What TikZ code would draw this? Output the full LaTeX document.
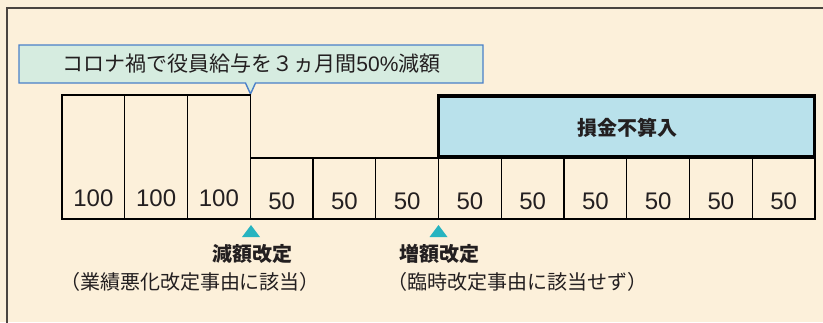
\documentclass[tikz,border=0pt]{standalone}
\usepackage{fontspec}
\setmainfont{Noto Sans CJK JP}
\newfontfamily\numfont{Liberation Sans}
\definecolor{bgc}{HTML}{FCF0DA}
\definecolor{framec}{HTML}{4A4540}
\definecolor{callfill}{HTML}{D6ECE0}
\definecolor{calldraw}{HTML}{4A80C8}
\definecolor{lossfill}{HTML}{B9E1EB}
\definecolor{mark}{HTML}{27B4C0}
\definecolor{txt}{HTML}{231F20}
\begin{document}
\begin{tikzpicture}[x=1pt,y=-1pt,
  gridline/.style={draw=black,line width=1.3pt},
  numtxt/.style={text=txt,font=\numfont\fontsize{24}{24}\selectfont,inner sep=0pt,anchor=center},
  jptxt/.style={text=txt,font=\fontsize{20}{20}\selectfont,inner sep=0pt,anchor=center},
  jpbold/.style={text=txt,font=\fontsize{20}{20}\selectfont\bfseries,inner sep=0pt,anchor=center},
  markstyle/.style={fill=mark,draw=none}]
\useasboundingbox (0,0) rectangle (823,322);
\fill[bgc] (0,0) rectangle (823,322);
% outer frame
\draw[framec,line width=1.2pt] (7,323) -- (7,8) -- (824,8);
% callout
\draw[calldraw,fill=callfill,line width=1.4pt,line join=miter]
  (19,45) -- (483,45) -- (483,83) -- (255.5,83) -- (250.5,94) -- (245.5,83) -- (19,83) -- cycle;
\node[jptxt,font=\fontsize{21}{21}\selectfont] (call) at (251.5,64) {コロナ禍で役員給与を３ヵ月間{\numfont 50\%}減額};
% 100 cells
\foreach \i in {0,1,2}{
  \pgfmathsetmacro{\xa}{62+\i*62.75}
  \pgfmathsetmacro{\xb}{62+(\i+1)*62.75}
  \draw[gridline] (\xa,95) rectangle (\xb,219);
  \node[numtxt] (h\i) at ({(\xa+\xb)/2},198) {100};
}
% 50 cells
\foreach \i in {3,...,11}{
  \pgfmathsetmacro{\xa}{62+\i*62.75}
  \pgfmathsetmacro{\xb}{62+(\i+1)*62.75}
  \draw[gridline] (\xa,158) rectangle (\xb,219);
  \node[numtxt] (f\i) at ({(\xa+\xb)/2},201.5) {50};
}
% non-deductible box
\draw[black,fill=lossfill,line width=3.3pt] (438.5,96) rectangle (814.5,157);
\node[jpbold] (loss) at (627,128) {損金不算入};
% markers
\coordinate (m1) at (251,225);
\coordinate (m2) at (438.5,225);
\fill[markstyle] (m1) -- ++(9,12) -- ++(-18,0) -- cycle;
\fill[markstyle] (m2) -- ++(9,12) -- ++(-18,0) -- cycle;
\node[jpbold] (dec) at (252,254) {減額改定};
\node[jptxt] (decnote) at (190,282) {（業績悪化改定事由に該当）};
\node[jpbold] (inc) at (439,254) {増額改定};
\node[jptxt] (incnote) at (517,282) {（臨時改定事由に該当せず）};
\end{tikzpicture}
\end{document}
